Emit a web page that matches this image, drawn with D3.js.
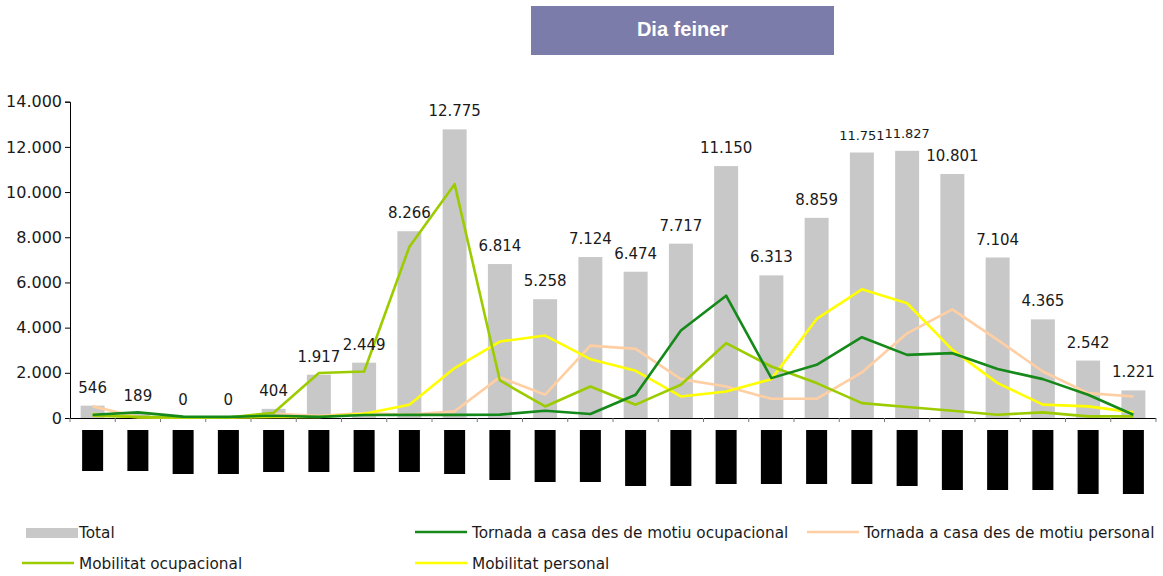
<!DOCTYPE html>
<html>
<head>
<meta charset="utf-8">
<script src="https://cdn.jsdelivr.net/npm/d3@7"></script>
<style>
  body { margin: 0; background: #fff; }
  #chart { width: 1163px; height: 576px; }
  text { font-family: "DejaVu Sans", Verdana, sans-serif; fill: #1a1a1a; }
</style>
</head>
<body>
<div id="chart"></div>
<script>
// hores del dia (0..23)
var hours = d3.range(24).map(function (h) { return h + "-" + (h + 1) + "h"; });

var total = [546, 189, 0, 0, 404, 1917, 2449, 8266, 12775, 6814, 5258, 7124,
    6474, 7717, 11150, 6313, 8859, 11751, 11827, 10801, 7104, 4365, 2542, 1221];

var tornadaOcup = [145, 250, 60, 50, 100, 50, 130, 140, 140, 150, 320, 175,
    1030, 3870, 5415, 1765, 2355, 3575, 2795, 2870, 2165, 1720, 1030, 145];

var tornadaPers = [515, 45, 20, 20, 190, 100, 220, 145, 295, 1810, 1030, 3205,
    3060, 1720, 1395, 850, 850, 2015, 3750, 4810, 3455, 2060, 1100, 955];

var mobOcup = [100, 50, 20, 20, 230, 1990, 2060, 7580, 10350, 1660, 510, 1395,
    590, 1470, 3310, 2280, 1545, 660, 485, 320, 145, 250, 70, 70];

var mobPers = [175, 30, 20, 20, 50, 45, 190, 590, 2210, 3385, 3650, 2605,
    2090, 955, 1175, 1720, 4385, 5695, 5080, 3015, 1545, 590, 515, 250];

// etiquetes de l'eix x (es veuen com blocs negres a l'original)
var hourLabelLen = [41, 41, 44, 44, 42, 42, 42, 42, 44, 50, 52, 52,
    56, 56, 54, 54, 54, 54, 56, 60, 60, 60, 64, 64];

var yTicks = [0, 2000, 4000, 6000, 8000, 10000, 12000, 14000];

function dayChart() {

    var width = 1163,
        height = 576,
        left = 70,
        right = 1156,
        top = 101.7,
        bottom = 418;

    var fmt = d3.formatLocale({ decimal: ",", thousands: ".", grouping: [3], currency: ["", ""] }).format(",d");

    var svg = d3.select("#chart")
        .append("svg")
        .attr("width", width)
        .attr("height", height);

    // titol
    svg.append("rect")
        .attr("x", 531)
        .attr("y", 6)
        .attr("width", 303)
        .attr("height", 49)
        .style("fill", "#7b7ca9");

    svg.append("text")
        .attr("x", 682.5)
        .attr("y", 36)
        .attr("text-anchor", "middle")
        .style("font-family", "'Liberation Sans', Arial, sans-serif")
        .style("font-weight", "bold")
        .style("font-size", "20px")
        .style("fill", "#fff")
        .text("Dia feiner");

    var xScale = d3.scaleBand()
        .domain(hours)
        .range([left, right])
        .padding(0);

    var yScale = d3.scaleLinear()
        .domain([0, 14000])
        .range([bottom, top]);

    var bw = xScale.bandwidth() * 0.53;
    var cx = function (i) { return xScale(hours[i]) + xScale.bandwidth() / 2; };

    // barres
    svg.append("g")
        .selectAll(".bar")
        .data(total)
        .enter()
        .append("rect")
        .attr("class", "bar")
        .attr("x", function (d, i) { return cx(i) - bw / 2; })
        .attr("y", function (d) { return yScale(d); })
        .attr("width", bw)
        .attr("height", function (d) { return bottom - yScale(d); })
        .style("fill", "#c8c8c8");

    // eix y
    var yAxis = svg.append("g")
        .attr("transform", "translate(" + left + ",0)")
        .call(d3.axisLeft(yScale)
            .tickValues(yTicks)
            .tickSize(5)
            .tickPadding(3)
            .tickFormat(fmt));
    yAxis.select(".domain").attr("stroke", "#000");
    yAxis.selectAll(".tick line").attr("stroke", "#000");
    yAxis.selectAll(".tick text")
        .style("font-family", "'DejaVu Sans', sans-serif")
        .style("font-size", "16px")
        .attr("fill", "#1a1a1a");

    // eix x
    var xTickPos = d3.range(25).map(function (i) { return left + i * xScale.step(); });
    svg.append("line")
        .attr("x1", left)
        .attr("x2", right)
        .attr("y1", bottom + 0.5)
        .attr("y2", bottom + 0.5)
        .style("stroke", "#000")
        .style("stroke-width", 1.2);
    svg.append("g")
        .selectAll("line")
        .data(xTickPos)
        .enter()
        .append("line")
        .attr("x1", function (d) { return d; })
        .attr("x2", function (d) { return d; })
        .attr("y1", bottom)
        .attr("y2", bottom + 4)
        .style("stroke", "#777")
        .style("stroke-width", 1);

    // blocs de les etiquetes
    svg.append("g")
        .selectAll(".hourblock")
        .data(hourLabelLen)
        .enter()
        .append("rect")
        .attr("class", "hourblock")
        .attr("x", function (d, i) { return cx(i) - 10.5; })
        .attr("y", 430)
        .attr("width", 21)
        .attr("height", function (d) { return d; })
        .style("fill", "#000");

    var series = [
        { name: "Tornada a casa des de motiu ocupacional", values: tornadaOcup, color: "#15891a" },
        { name: "Tornada a casa des de motiu personal", values: tornadaPers, color: "#ffcfa3" },
        { name: "Mobilitat ocupacional", values: mobOcup, color: "#9ccc00" },
        { name: "Mobilitat personal", values: mobPers, color: "#ffff00" }
    ];

    var line = d3.line()
        .x(function (d, i) { return cx(i); })
        .y(function (d) { return yScale(d); });

    // ordre de dibuix semblant a l'original
    [1, 3, 2, 0].forEach(function (k) {
        svg.append("path")
            .datum(series[k].values)
            .attr("d", line)
            .style("fill", "none")
            .style("stroke", series[k].color)
            .style("stroke-width", 2.6)
            .style("stroke-linejoin", "round");
    });

    // etiquetes de dades
    var labels = svg.append("g")
        .selectAll(".lbl")
        .data(total)
        .enter()
        .append("text")
        .attr("class", "lbl")
        .attr("x", function (d, i) { return cx(i); })
        .attr("y", function (d) { return yScale(d) - 13; })
        .attr("text-anchor", "middle")
        .style("font-size", "15px")
        .text(function (d) { return fmt(d); });

    // si dues etiquetes veines es trepitgen, es fan mes petites
    var lens = [];
    labels.each(function () { lens.push(this.getComputedTextLength()); });
    var squeeze = {};
    total.forEach(function (d, i) {
        if (i < total.length - 1) {
            var sameRow = Math.abs(yScale(d) - yScale(total[i + 1])) < 16;
            if (sameRow && cx(i) + lens[i] / 2 > cx(i + 1) - lens[i + 1] / 2) {
                squeeze[i] = true;
                squeeze[i + 1] = true;
            }
        }
    });
    labels.filter(function (d, i) { return squeeze[i]; })
        .style("font-size", "13px");

    // llegenda
    var legend = svg.append("g").style("font-size", "15.3px");

    legend.append("rect")
        .attr("x", 26)
        .attr("y", 528)
        .attr("width", 52)
        .attr("height", 10)
        .style("fill", "#c8c8c8");
    legend.append("text").attr("x", 79).attr("y", 538).text("Total");

    var items = [
        { s: series[0], x: 415, y: 532 },
        { s: series[1], x: 807, y: 532 },
        { s: series[2], x: 22, y: 563 },
        { s: series[3], x: 415, y: 563 }
    ];
    items.forEach(function (it) {
        legend.append("line")
            .attr("x1", it.x)
            .attr("x2", it.x + 52)
            .attr("y1", it.y)
            .attr("y2", it.y)
            .style("stroke", it.s.color)
            .style("stroke-width", 2.6);
        legend.append("text")
            .attr("x", it.x + 57)
            .attr("y", it.y + 6)
            .text(it.s.name);
    });
}

dayChart();
</script>
</body>
</html>
